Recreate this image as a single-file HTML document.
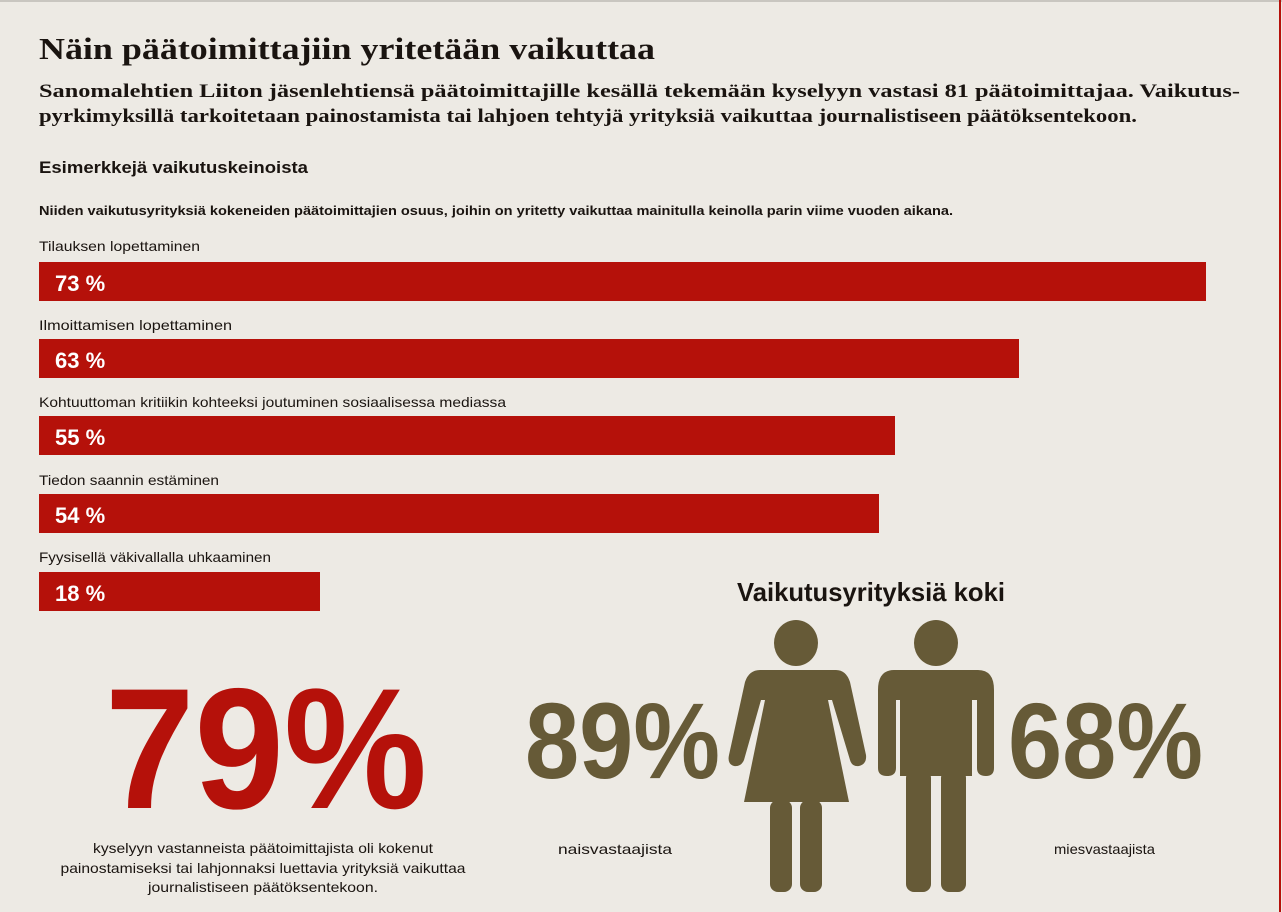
<!DOCTYPE html>
<html><head><meta charset="utf-8"><style>
html,body{margin:0;padding:0;background:#edeae4;}
svg{display:block;}
.s{font-family:"Liberation Sans",sans-serif;}
.r{font-family:"Liberation Serif",serif;font-weight:bold;}
</style></head><body>
<svg width="1282" height="912" viewBox="0 0 1282 912" xmlns="http://www.w3.org/2000/svg">
<rect width="1282" height="912" fill="#edeae4"/>
<rect x="0" y="0" width="1282" height="2" fill="#c9c6c0"/>
<rect x="1279" y="0" width="2" height="912" fill="#b5110a"/>
<text class="r" x="39" y="59" font-size="31" fill="#1a1410" textLength="616" lengthAdjust="spacingAndGlyphs">Näin päätoimittajiin yritetään vaikuttaa</text>
<text class="r" x="39" y="97" font-size="19" fill="#1a1410" textLength="1201" lengthAdjust="spacingAndGlyphs">Sanomalehtien Liiton jäsenlehtiensä päätoimittajille kesällä tekemään kyselyyn vastasi 81 päätoimittajaa. Vaikutus-</text>
<text class="r" x="39" y="122" font-size="19" fill="#1a1410" textLength="1098" lengthAdjust="spacingAndGlyphs">pyrkimyksillä tarkoitetaan painostamista tai lahjoen tehtyjä yrityksiä vaikuttaa journalistiseen päätöksentekoon.</text>
<text class="s" x="39" y="173" font-size="17" font-weight="bold" fill="#1a1410" textLength="269" lengthAdjust="spacingAndGlyphs">Esimerkkejä vaikutuskeinoista</text>
<text class="s" x="39" y="215" font-size="13" font-weight="bold" fill="#1a1410" textLength="914" lengthAdjust="spacingAndGlyphs">Niiden vaikutusyrityksiä kokeneiden päätoimittajien osuus, joihin on yritetty vaikuttaa mainitulla keinolla parin viime vuoden aikana.</text>
<g fill="#1a1410" font-size="14" class="s">
<text x="39" y="251" textLength="161" lengthAdjust="spacingAndGlyphs">Tilauksen lopettaminen</text>
<text x="39" y="330" textLength="193" lengthAdjust="spacingAndGlyphs">Ilmoittamisen lopettaminen</text>
<text x="39" y="407" textLength="467" lengthAdjust="spacingAndGlyphs">Kohtuuttoman kritiikin kohteeksi joutuminen sosiaalisessa mediassa</text>
<text x="39" y="485" textLength="180" lengthAdjust="spacingAndGlyphs">Tiedon saannin estäminen</text>
<text x="39" y="562" textLength="232" lengthAdjust="spacingAndGlyphs">Fyysisellä väkivallalla uhkaaminen</text>
</g>
<g fill="#b5110a">
<rect x="39" y="262" width="1167" height="39"/>
<rect x="39" y="339" width="980" height="39"/>
<rect x="39" y="416" width="856" height="39"/>
<rect x="39" y="494" width="840" height="39"/>
<rect x="39" y="572" width="281" height="39"/>
</g>
<g fill="#fff" font-size="22" font-weight="bold" class="s">
<text x="55" y="291">73 %</text>
<text x="55" y="368">63 %</text>
<text x="55" y="445">55 %</text>
<text x="55" y="523">54 %</text>
<text x="55" y="601">18 %</text>
</g>
<text class="s" x="105" y="808" font-size="172" font-weight="bold" fill="#b5110a" textLength="322" lengthAdjust="spacingAndGlyphs">79%</text>
<g class="s" font-size="14" fill="#1a1410" text-anchor="middle">
<text x="263" y="853" textLength="340" lengthAdjust="spacingAndGlyphs">kyselyyn vastanneista päätoimittajista oli kokenut</text>
<text x="263" y="873" textLength="405" lengthAdjust="spacingAndGlyphs">painostamiseksi tai lahjonnaksi luettavia yrityksiä vaikuttaa</text>
<text x="263" y="892" textLength="230" lengthAdjust="spacingAndGlyphs">journalistiseen päätöksentekoon.</text>
</g>
<text class="s" x="737" y="601" font-size="26" font-weight="bold" fill="#1a1410" textLength="268" lengthAdjust="spacingAndGlyphs">Vaikutusyrityksiä koki</text>
<g class="s" font-weight="bold" fill="#665a37" font-size="108">
<text x="525" y="778" textLength="195" lengthAdjust="spacingAndGlyphs">89%</text>
<text x="1008" y="778" textLength="195" lengthAdjust="spacingAndGlyphs">68%</text>
</g>
<g class="s" font-size="14" fill="#1a1410">
<text x="558" y="854" textLength="114" lengthAdjust="spacingAndGlyphs">naisvastaajista</text>
<text x="1054" y="854" textLength="101" lengthAdjust="spacingAndGlyphs">miesvastaajista</text>
</g>
<g fill="#665a37">
<!-- woman -->
<ellipse cx="796" cy="643" rx="22" ry="23"/>
<path d="M760 670 L836 670 Q846 670 850 682 L866 755 Q867 764 859 766 Q852 767 850 760 L832 700 L828 700 L849 802 L744 802 L765 700 L761 700 L744 760 Q741 767 734 766 Q727 764 729 755 L745 682 Q749 670 760 670 Z"/>
<rect x="770" y="800" width="22" height="92" rx="8"/>
<rect x="800" y="800" width="22" height="92" rx="8"/>
<!-- man -->
<ellipse cx="936" cy="643" rx="22" ry="23"/>
<path d="M894 670 L978 670 Q994 670 994 690 L994 768 Q994 776 986 776 Q977 776 977 768 L977 700 L972 700 L972 776 L900 776 L900 700 L896 700 L896 768 Q896 776 887 776 Q878 776 878 768 L878 690 Q878 670 894 670 Z"/>
<rect x="906" y="770" width="25" height="122" rx="8"/>
<rect x="941" y="770" width="25" height="122" rx="8"/>
</g>
</svg>
</body></html>
